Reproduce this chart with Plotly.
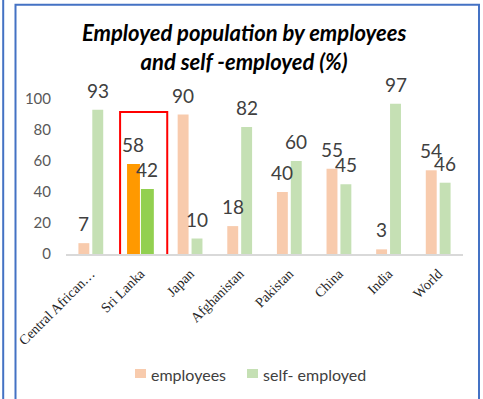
import plotly.graph_objects as go

# ---- data ----
categories = ["Central African Republic", "Sri Lanka", "Japan", "Afghanistan",
              "Pakistan", "China", "India", "World"]
tick_labels = ["Central African…", "Sri Lanka", "Japan", "Afghanistan",
               "Pakistan", "China", "India", "World"]
employees = [7, 58, 90, 18, 40, 55, 3, 54]
self_employed = [93, 42, 10, 82, 60, 45, 97, 46]
series_names = ["employees", "self- employed"]
highlight = "Sri Lanka"

# ---- styling ----
W, H = 483, 399
ML, MR, MT, MB = 66, 20, 99, 145
EMP_COLOR, SELF_COLOR = "#F8CBAD", "#C5E0B4"
EMP_HI, SELF_HI = "#FF9900", "#92D050"
FRAME = "#4472C4"
LABEL_FONT = "Lato"

hi = categories.index(highlight)
n = len(categories)

emp_colors = [EMP_HI if i == hi else EMP_COLOR for i in range(n)]
self_colors = [SELF_HI if i == hi else SELF_COLOR for i in range(n)]
# bar geometry in category units (highlighted pair drawn a bit wider)
emp_offset = [-0.27 if i == hi else -0.25 for i in range(n)]
emp_width = [0.26 if i == hi else 0.22 for i in range(n)]
self_offset = [0.01 if i == hi else 0.03 for i in range(n)]
self_width = [0.26 if i == hi else 0.22 for i in range(n)]

xs = list(range(n))

fig = go.Figure()
fig.add_trace(go.Bar(
    x=xs, y=employees, name=series_names[0], showlegend=False,
    marker=dict(color=emp_colors, line=dict(width=0)),
    offset=emp_offset, width=emp_width, hoverinfo="skip",
))
fig.add_trace(go.Bar(
    x=xs, y=self_employed, name=series_names[1], showlegend=False,
    marker=dict(color=self_colors, line=dict(width=0)),
    offset=self_offset, width=self_width, hoverinfo="skip",
))


def px_x(p):
    return (p - ML) / (W - ML - MR)


def px_y(p):
    return (H - MB - p) / (H - MT - MB)


# value labels above each bar
annotations = []
for vals, offs, wids in ((employees, emp_offset, emp_width),
                         (self_employed, self_offset, self_width)):
    for i, v in enumerate(vals):
        annotations.append(dict(
            x=i + offs[i] + wids[i] / 2, y=v, xref="x", yref="y",
            text=str(v), showarrow=False, yanchor="bottom", yshift=6,
            font=dict(family=LABEL_FONT, size=19, color="#404040"),
        ))

# chart title
annotations.append(dict(
    x=px_x(244), y=px_y(17), xref="paper", yref="paper",
    xanchor="center", yanchor="top", showarrow=False, align="center",
    text="<b><i>Employed population by employees<br>and self -employed (%)</i></b>",
    font=dict(family=LABEL_FONT, size=22, color="black"),
))

shapes = [
    # outer page rule and chart frame
    dict(type="line", xref="paper", yref="paper",
         x0=px_x(3.2), x1=px_x(3.2), y0=px_y(-5), y1=px_y(405),
         line=dict(color=FRAME, width=2)),
    dict(type="rect", xref="paper", yref="paper",
         x0=px_x(15.5), x1=px_x(479), y0=px_y(4.8), y1=px_y(410),
         line=dict(color=FRAME, width=2)),
    # box around the highlighted country
    dict(type="rect", xref="x", yref="y",
         x0=hi - 0.41, x1=hi + 0.54, y0=-1.3, y1=91.6,
         line=dict(color="#FF0000", width=2)),
]

# legend: swatch + series name
legend_items = [(series_names[0], EMP_COLOR, 135), (series_names[1], SELF_COLOR, 247)]
for name, color, left in legend_items:
    shapes.append(dict(
        type="rect", xref="paper", yref="paper",
        x0=px_x(left), x1=px_x(left + 11), y0=px_y(369), y1=px_y(378),
        fillcolor=color, line=dict(width=0),
    ))
    annotations.append(dict(
        x=px_x(left + 14), y=px_y(374), xref="paper", yref="paper",
        xanchor="left", yanchor="middle", showarrow=False, text=name,
        font=dict(family=LABEL_FONT, size=16, color="#404040"),
    ))

fig.update_layout(
    width=W, height=H,
    margin=dict(l=ML, r=MR, t=MT, b=MB),
    paper_bgcolor="white", plot_bgcolor="white",
    barmode="overlay",
    xaxis=dict(
        range=[-0.5, n - 0.5], tickmode="array", tickvals=xs, ticktext=tick_labels,
        tickangle=-45, showgrid=False, zeroline=False,
        showline=True, linecolor="#D9D9D9", linewidth=2,
        ticks="", ticklabelstandoff=4,
        tickfont=dict(family="Liberation Serif", size=14, color="#262626"),
    ),
    yaxis=dict(
        range=[0, 100], tickvals=[0, 20, 40, 60, 80, 100],
        showgrid=False, zeroline=False, showline=False, ticks="",
        ticklabelstandoff=14,
        tickfont=dict(family=LABEL_FONT, size=15, color="#595959"),
    ),
    showlegend=False,
    annotations=annotations,
    shapes=shapes,
)

fig.write_html("out.html")
